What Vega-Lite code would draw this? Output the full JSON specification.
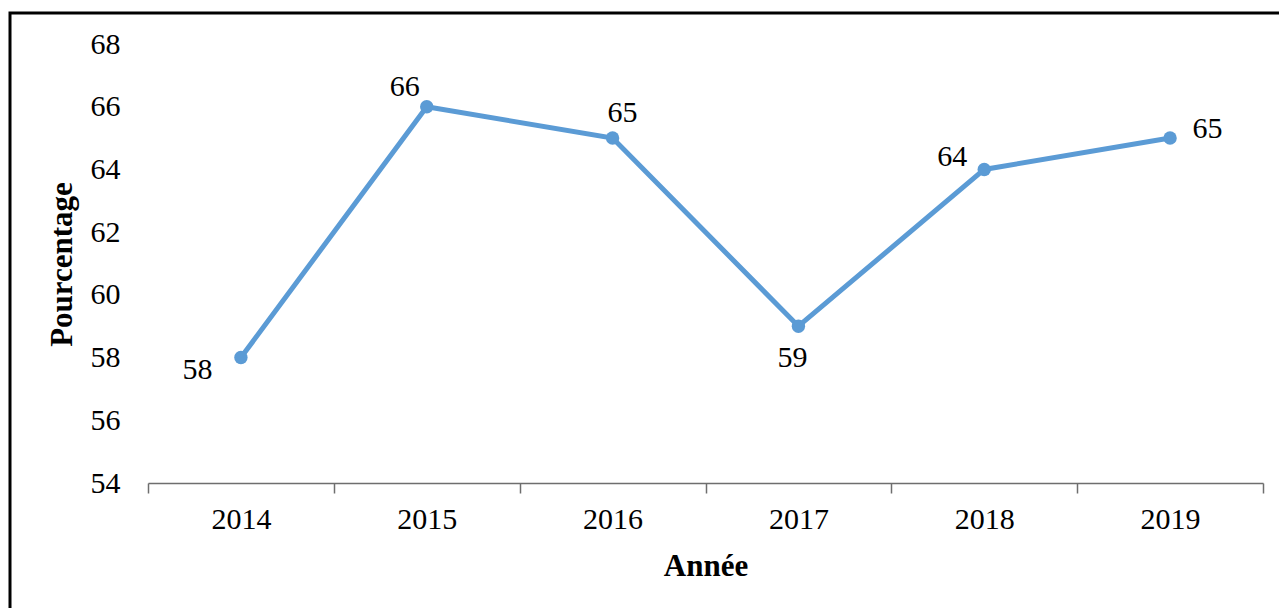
{
  "$schema": "https://vega.github.io/schema/vega-lite/v6.json",
  "width": 1272,
  "height": 598,
  "autosize": {"type": "none"},
  "padding": {"left": 10, "top": 13, "right": -3, "bottom": -3},
  "background": "white",
  "config": {
    "view": {"stroke": "black", "strokeWidth": 3},
    "font": "Liberation Serif"
  },
  "data": {
    "values": [
      {"year": "2014", "pct": 58},
      {"year": "2015", "pct": 66},
      {"year": "2016", "pct": 65},
      {"year": "2017", "pct": 59},
      {"year": "2018", "pct": 64},
      {"year": "2019", "pct": 65}
    ]
  },
  "encoding": {
    "x": {
      "field": "year",
      "type": "ordinal",
      "scale": {"type": "band", "range": [138, 1253], "paddingInner": 0, "paddingOuter": 0},
      "axis": {
        "title": "Année",
        "titleFont": "Liberation Serif",
        "titleFontWeight": "bold",
        "titleFontSize": 31,
        "titleColor": "black",
        "titleY": 92,
        "titleBaseline": "alphabetic",
        "labelAngle": 0,
        "labelFont": "Liberation Serif",
        "labelFontSize": 30,
        "labelColor": "black",
        "labelPadding": 11,
        "labelFlush": false,
        "tickSize": 10,
        "tickColor": "#6e6e6e",
        "tickWidth": 1.5,
        "domainColor": "#6e6e6e",
        "domainWidth": 1.5,
        "tickBand": "extent",
        "offset": -128,
        "grid": false
      }
    },
    "y": {
      "field": "pct",
      "type": "quantitative",
      "scale": {"domain": [54, 68], "range": [470, 31], "nice": false, "zero": false},
      "axis": {
        "title": "Pourcentage",
        "titleFont": "Liberation Serif",
        "titleFontWeight": "bold",
        "titleFontSize": 31,
        "titleColor": "black",
        "titleAngle": -90,
        "titleX": -57.5,
        "titleY": 251,
        "titleAlign": "center",
        "titleBaseline": "middle",
        "values": [54, 56, 58, 60, 62, 64, 66, 68],
        "labelFont": "Liberation Serif",
        "labelFontSize": 30,
        "labelColor": "black",
        "labelPadding": 0,
        "labelFlush": false,
        "labelOverlap": false,
        "ticks": false,
        "domain": false,
        "grid": false,
        "offset": -110
      }
    }
  },
  "layer": [
    {"mark": {"type": "line", "color": "#5B9BD5", "strokeWidth": 5}},
    {"mark": {"type": "point", "filled": true, "opacity": 1, "color": "#5B9BD5", "size": 180}},
    {
      "transform": [{"filter": "datum.year == '2014'"}],
      "mark": {"type": "text", "dx": -43.5, "dy": 12, "fontSize": 30, "font": "Liberation Serif", "color": "black", "align": "center", "baseline": "middle"},
      "encoding": {"text": {"field": "pct"}}
    },
    {
      "transform": [{"filter": "datum.year == '2015'"}],
      "mark": {"type": "text", "dx": -22, "dy": -20, "fontSize": 30, "font": "Liberation Serif", "color": "black", "align": "center", "baseline": "middle"},
      "encoding": {"text": {"field": "pct"}}
    },
    {
      "transform": [{"filter": "datum.year == '2016'"}],
      "mark": {"type": "text", "dx": 10, "dy": -25, "fontSize": 30, "font": "Liberation Serif", "color": "black", "align": "center", "baseline": "middle"},
      "encoding": {"text": {"field": "pct"}}
    },
    {
      "transform": [{"filter": "datum.year == '2017'"}],
      "mark": {"type": "text", "dx": -6, "dy": 32, "fontSize": 30, "font": "Liberation Serif", "color": "black", "align": "center", "baseline": "middle"},
      "encoding": {"text": {"field": "pct"}}
    },
    {
      "transform": [{"filter": "datum.year == '2018'"}],
      "mark": {"type": "text", "dx": -32, "dy": -12, "fontSize": 30, "font": "Liberation Serif", "color": "black", "align": "center", "baseline": "middle"},
      "encoding": {"text": {"field": "pct"}}
    },
    {
      "transform": [{"filter": "datum.year == '2019'"}],
      "mark": {"type": "text", "dx": 37.5, "dy": -9.5, "fontSize": 30, "font": "Liberation Serif", "color": "black", "align": "center", "baseline": "middle"},
      "encoding": {"text": {"field": "pct"}}
    }
  ]
}
